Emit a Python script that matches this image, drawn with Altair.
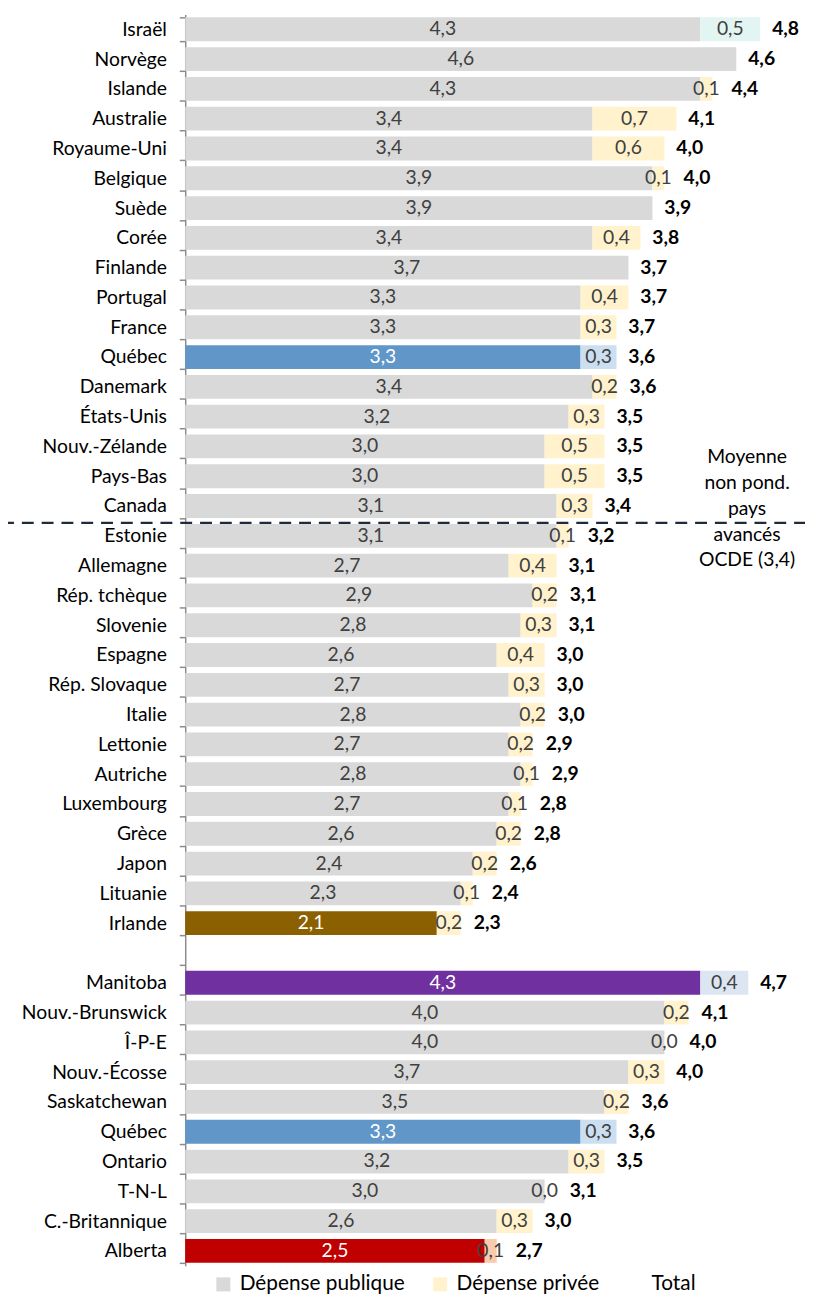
import altair as alt
import pandas as pd

# ---------------- data ----------------
countries = [
    "Israël", "Norvège", "Islande", "Australie", "Royaume-Uni", "Belgique", "Suède",
    "Corée", "Finlande", "Portugal", "France", "Québec", "Danemark", "États-Unis",
    "Nouv.-Zélande", "Pays-Bas", "Canada", "Estonie", "Allemagne", "Rép. tchèque",
    "Slovenie", "Espagne", "Rép. Slovaque", "Italie", "Lettonie", "Autriche",
    "Luxembourg", "Grèce", "Japon", "Lituanie", "Irlande", " ",
    "Manitoba", "Nouv.-Brunswick", "Î-P-E", "Nouv.-Écosse", "Saskatchewan", "Québec",
    "Ontario", "T-N-L", "C.-Britannique", "Alberta",
]
public = [
    4.3, 4.6, 4.3, 3.4, 3.4, 3.9, 3.9, 3.4, 3.7, 3.3, 3.3, 3.3, 3.4, 3.2, 3.0, 3.0, 3.1,
    3.1, 2.7, 2.9, 2.8, 2.6, 2.7, 2.8, 2.7, 2.8, 2.7, 2.6, 2.4, 2.3, 2.1, None,
    4.3, 4.0, 4.0, 3.7, 3.5, 3.3, 3.2, 3.0, 2.6, 2.5,
]
private = [
    0.5, None, 0.1, 0.7, 0.6, 0.1, None, 0.4, None, 0.4, 0.3, 0.3, 0.2, 0.3, 0.5, 0.5, 0.3,
    0.1, 0.4, 0.2, 0.3, 0.4, 0.3, 0.2, 0.2, 0.1, 0.1, 0.2, 0.2, 0.1, 0.2, None,
    0.4, 0.2, 0.0, 0.3, 0.2, 0.3, 0.3, 0.0, 0.3, 0.1,
]
total = [
    4.8, 4.6, 4.4, 4.1, 4.0, 4.0, 3.9, 3.8, 3.7, 3.7, 3.7, 3.6, 3.6, 3.5, 3.5, 3.5, 3.4,
    3.2, 3.1, 3.1, 3.1, 3.0, 3.0, 3.0, 2.9, 2.9, 2.8, 2.8, 2.6, 2.4, 2.3, None,
    4.7, 4.1, 4.0, 4.0, 3.6, 3.6, 3.5, 3.1, 3.0, 2.7,
]
series_names = ["Dépense publique", "Dépense privée", "Total"]
series_colors = ["#D9D9D9", "#FFF2CC", "#FFFFFF"]
highlight_public = {"Québec": "#6096C8", "Irlande": "#8B6000",
                    "Manitoba": "#7030A0", "Alberta": "#C00000"}
highlight_private = {"Israël": "#E3F5F3", "Québec": "#CCDFF1",
                     "Manitoba": "#DCE6F2", "Alberta": "#F8CBAD"}
oecd_note = ["Moyenne", "non pond.", "pays", "avancés", "OCDE (3,4)"]
note_x = 4.69
separator_after = "Canada"

FONT = "Lato"
FS = 19.5
HALF_LABEL = 0.11  # half width of a small value label, in axis units

def fmt(v):
    return f"{v:.1f}".replace(".", ",")

# unique keys (second Québec gets a zero-width space)
keys = []
seen = {}
for n in countries:
    c = seen.get(n, 0)
    keys.append(n + "\u200b" * c)
    seen[n] = c + 1

# colour scale
dom = list(series_names)
rng = list(series_colors)
for k, v in highlight_public.items():
    dom.append("pub:" + k); rng.append(v)
for k, v in highlight_private.items():
    dom.append("priv:" + k); rng.append(v)

bar_rows, pub_txt, priv_txt, tot_txt = [], [], [], []
for key, name, p, q, t in zip(keys, countries, public, private, total):
    if p is not None:
        ck = "pub:" + name if name in highlight_public else "Dépense publique"
        bar_rows.append({"key": key, "start": 0.0, "end": p, "ck": ck})
        pub_txt.append({"key": key, "x": p / 2, "label": fmt(p),
                        "tc": "#FFFFFF" if name in highlight_public else "#404040"})
    if q is not None:
        ck = "priv:" + name if name in highlight_private else "Dépense privée"
        bar_rows.append({"key": key, "start": p, "end": p + q, "ck": ck})
        priv_txt.append({"key": key, "x": p + q / 2, "label": fmt(q), "tc": "#404040"})
    if t is not None:
        end = p + (q or 0.0)
        if q is not None:
            end = max(end, p + q / 2 + HALF_LABEL)
        tot_txt.append({"key": key, "x": end, "label": fmt(t)})

bars_df = pd.DataFrame(bar_rows)
pub_df = pd.DataFrame(pub_txt)
priv_df = pd.DataFrame(priv_txt)
tot_df = pd.DataFrame(tot_txt)

xscale = alt.Scale(domain=[0, 5], nice=False, zero=True)
yenc = alt.Y(
    "key:N", sort=keys,
    scale=alt.Scale(domain=keys, paddingInner=0.2, paddingOuter=0.1),
    axis=alt.Axis(title=None, grid=False, tickBand="extent", tickSize=6,
                  labelPadding=13, labelFontSize=FS, labelFont=FONT,
                  labelColor="#000000", labelLimit=300,
                  domainColor="#8C8C8C", domainWidth=1.5,
                  tickColor="#8C8C8C", tickWidth=1.5),
)

bars = alt.Chart(bars_df).mark_bar().encode(
    y=yenc,
    x=alt.X("start:Q", scale=xscale, axis=None),
    x2="end:Q",
    color=alt.Color(
        "ck:N", scale=alt.Scale(domain=dom, range=rng),
        legend=alt.Legend(values=series_names, orient="none", legendX=28, legendY=1272,
                          direction="horizontal", title=None, symbolType="square",
                          symbolSize=200, symbolStrokeWidth=0, labelFontSize=21,
                          labelFont=FONT, labelColor="#000000", columnPadding=25,
                          labelOffset=6, labelLimit=300),
    ),
)

pub_text = alt.Chart(pub_df).mark_text(fontSize=FS, font=FONT, baseline="middle").encode(
    y=yenc, x=alt.X("x:Q", scale=xscale, axis=None), text="label:N",
    fill=alt.Fill("tc:N", scale=None),
)
priv_text = alt.Chart(priv_df).mark_text(fontSize=FS, font=FONT, baseline="middle").encode(
    y=yenc, x=alt.X("x:Q", scale=xscale, axis=None), text="label:N",
    fill=alt.Fill("tc:N", scale=None),
)
tot_text = alt.Chart(tot_df).mark_text(fontSize=FS, font=FONT, fontWeight="bold",
                                       align="left", baseline="middle", dx=12,
                                       color="#000000").encode(
    y=yenc, x=alt.X("x:Q", scale=xscale, axis=None), text="label:N",
)

rule = alt.Chart(pd.DataFrame({"a": [0]})).mark_rule(
    strokeDash=[12, 8], strokeWidth=2.5, color="#1E2B38", yOffset=17
).encode(y=alt.datum(separator_after), x=alt.value(-185), x2=alt.value(640))

note = alt.Chart(pd.DataFrame({"a": [0]})).mark_text(
    fontSize=FS, font=FONT, align="center", baseline="middle", lineHeight=26,
    color="#000000", dy=-49
).encode(x=alt.datum(note_x), y=alt.datum(separator_after), text=alt.value(oecd_note))

chart = alt.layer(bars, pub_text, priv_text, tot_text, rule, note).properties(
    width=605, height=1264,
    padding={"left": 179, "top": 0, "right": 21, "bottom": 23},
    autosize=alt.AutoSizeParams(type="none"),
).configure_view(stroke=None)

chart.save("out.html", embed_options={"renderer": "svg", "actions": False})
